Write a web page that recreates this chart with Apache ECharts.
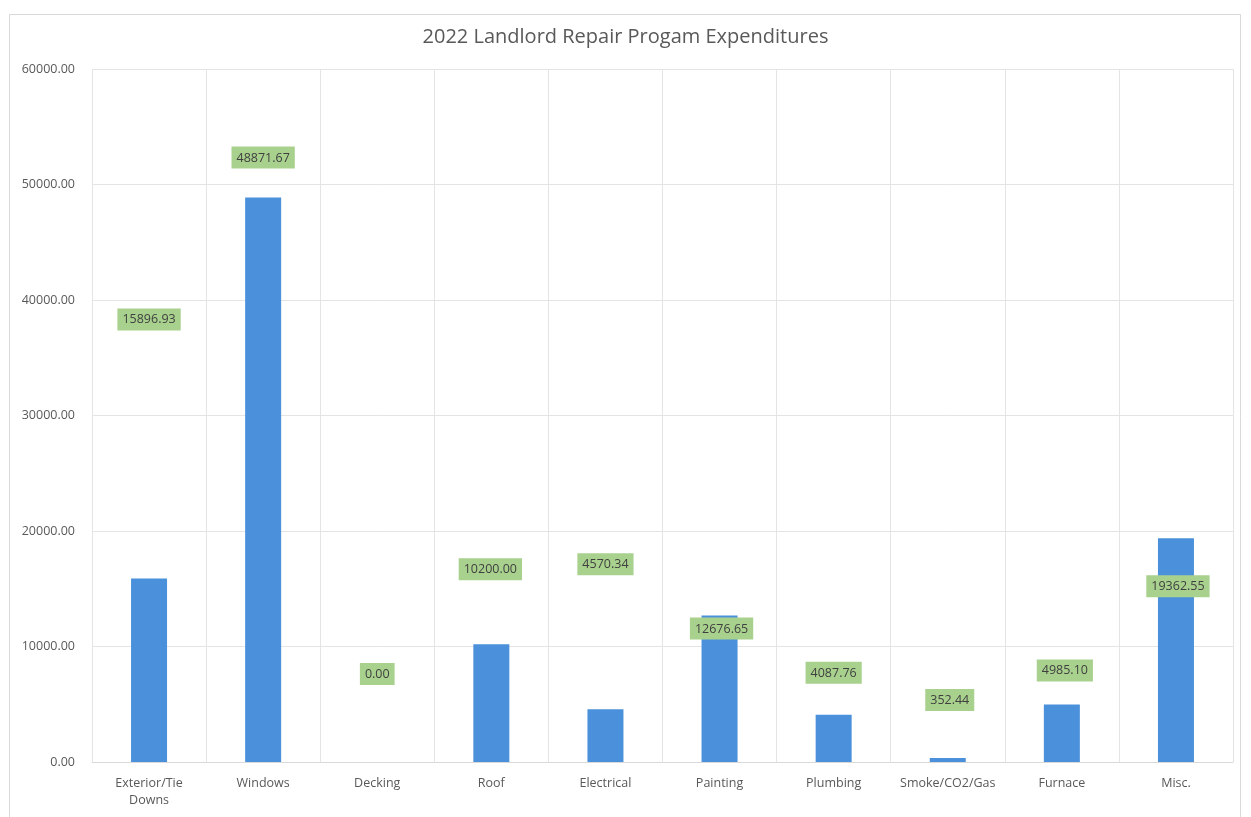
<!DOCTYPE html>
<html>
<head>
<meta charset="utf-8">
<script src="https://cdn.jsdelivr.net/npm/echarts@6/dist/echarts.min.js"></script>
<style>
  html, body { margin: 0; padding: 0; background: #ffffff; }
  #chart { width: 1251px; height: 817px; }
</style>
</head>
<body>
<div id="chart"></div>
<script>
// Repair categories and what was spent on each in 2022
const categories = [
  'Exterior/Tie\nDowns', 'Windows', 'Decking', 'Roof', 'Electrical',
  'Painting', 'Plumbing', 'Smoke/CO2/Gas', 'Furnace', 'Misc.'
];
const expenditures = [
  15896.93, 48871.67, 0.00, 10200.00, 4570.34,
  12676.65, 4087.76, 352.44, 4985.10, 19362.55
];
const yTicks = { min: 0, max: 60000, interval: 10000 };

// Hand-placed value labels: pixel nudge from the default spot above each bar
const labelNudge = [
  [0, -243], [0, -24], [0, -72], [-1, -59], [0, -129],
  [2, 29], [0, -26], [2, -42], [3, -18], [2, 64]
];

const chart = echarts.init(document.getElementById('chart'));

const barData = expenditures.map((v, i) => ({
  value: v,
  label: { offset: labelNudge[i] }
}));

chart.setOption({
  animation: false,
  backgroundColor: '#ffffff',
  title: {
    text: '2022 Landlord Repair Progam Expenditures',
    left: 'center',
    top: 22,
    textStyle: { fontFamily: 'Open Sans', fontSize: 20, fontWeight: 'normal', color: '#595959' }
  },
  graphic: [{
    type: 'rect',
    shape: { x: 9.5, y: 14.5, width: 1231, height: 820 },
    style: { fill: 'none', stroke: '#d9d9d9', lineWidth: 1 },
    silent: true
  }],
  grid: { left: 92, right: 18, top: 69, bottom: 55 },
  xAxis: {
    type: 'category',
    data: categories,
    boundaryGap: true,
    axisLine: { show: true, lineStyle: { color: '#d9d9d9' } },
    axisTick: { show: false },
    splitLine: { show: true, lineStyle: { color: '#e4e4e4' } },
    axisLabel: {
      interval: 0,
      margin: 13,
      fontFamily: 'Open Sans',
      fontSize: 12.5,
      lineHeight: 17,
      color: '#595959'
    }
  },
  yAxis: {
    type: 'value',
    min: yTicks.min,
    max: yTicks.max,
    interval: yTicks.interval,
    axisLine: { show: false },
    axisTick: { show: false },
    splitLine: { lineStyle: { color: '#e4e4e4' } },
    axisLabel: {
      margin: 17,
      fontFamily: 'Open Sans',
      fontSize: 12.5,
      color: '#595959',
      formatter: v => v.toFixed(2)
    }
  },
  series: [{
    type: 'bar',
    data: barData,
    barWidth: 36,
    itemStyle: { color: '#4A90DA' },
    label: {
      show: true,
      position: 'top',
      distance: 5,
      fontFamily: 'Open Sans',
      fontSize: 12.5,
      color: '#3f3f3f',
      backgroundColor: '#A9D18E',
      padding: [5, 5, 4, 5],
      formatter: p => Number(p.value).toFixed(2)
    }
  }]
});
</script>
</body>
</html>
